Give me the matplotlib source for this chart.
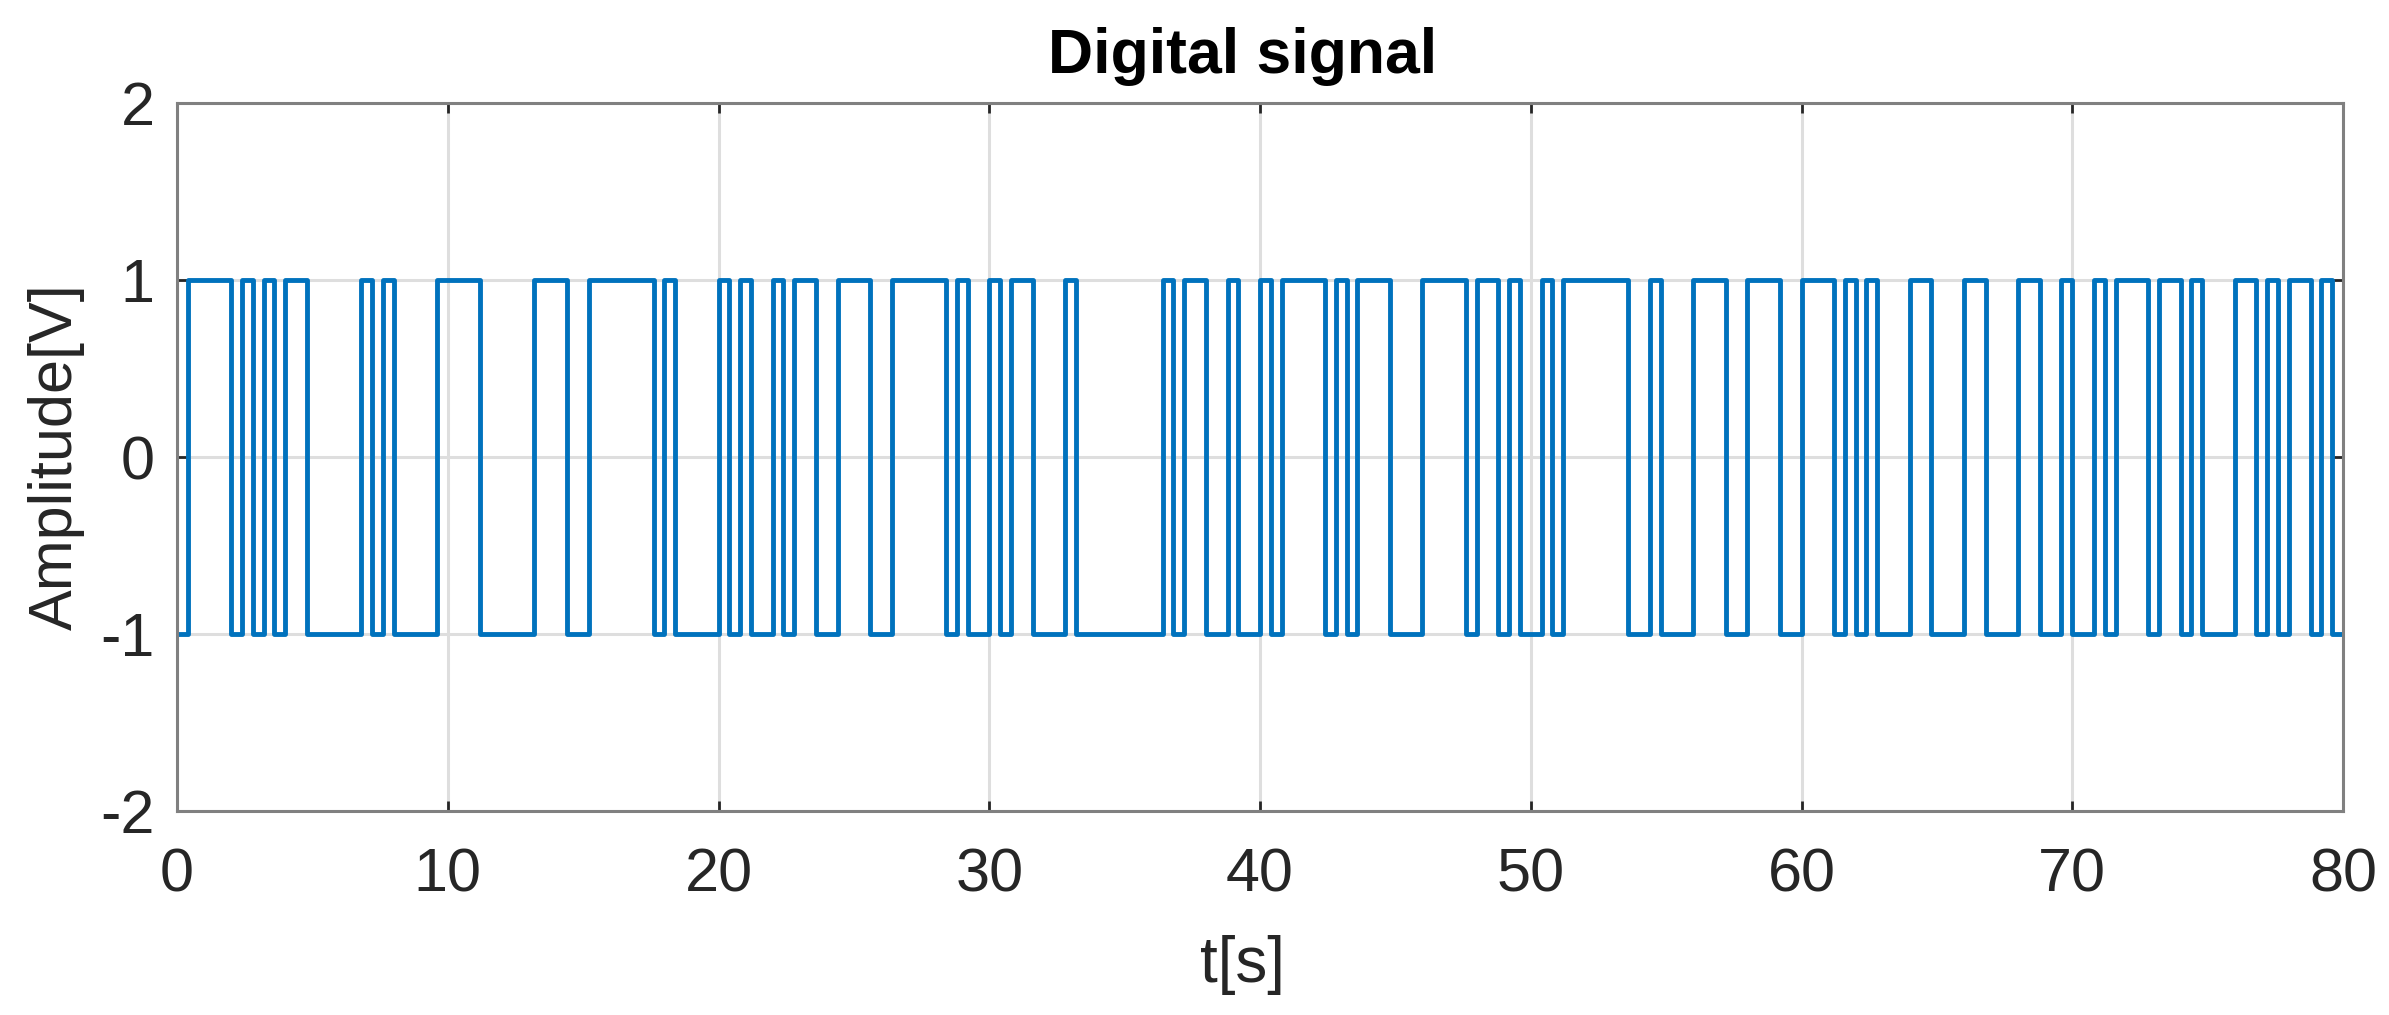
import numpy as np
import matplotlib.pyplot as plt
from matplotlib import font_manager

# Digital signal, 200 bits of 0.4 s each (1 -> +1 V, 0 -> -1 V)

bit_period = 0.4
bit_rows = [
    "0111101010", "1100000101", "0000111100", "0001110011", "1111010000",
    "1010010110", "0111001111", "1010010110", "0010000000", "0101100100",
    "1011110101", "1100011110", "1101001011", "1111001000", "1110011100",
    "1110101000", "1100011000", "1100100101", "1101101000", "1101011010",
]
x_ticks = [0, 10, 20, 30, 40, 50, 60, 70, 80]
y_ticks = [-2, -1, 0, 1, 2]

bits = np.array([int(c) for c in "".join(bit_rows)])
levels = 2 * bits - 1
t = np.arange(len(levels) + 1) * bit_period
y = np.append(levels, levels[-1])

installed = {f.name for f in font_manager.fontManager.ttflist}
narrow = "Liberation Sans Narrow" if "Liberation Sans Narrow" in installed else "Liberation Sans"

plt.rcParams['font.family'] = [narrow, 'DejaVu Sans']
plt.rcParams['axes.unicode_minus'] = False

W, H = 2389, 1015
fig = plt.figure(figsize=(W / 100, H / 100), dpi=100)
ax = fig.add_axes([177 / W, 1 - 811 / H, (2343 - 177) / W, (811 - 103) / H])

ax.step(t, y, where='post', color='#0072BD', linewidth=3.5)

ax.set_xlim(0, 80)
ax.set_ylim(-2, 2)
ax.set_xticks(x_ticks)
ax.set_yticks(y_ticks)
ax.grid(True, color='#dedede', linewidth=2.2)
ax.set_axisbelow(True)

for s in ax.spines.values():
    s.set_color('#808080')
    s.set_linewidth(2.2)

ax.tick_params(axis='both', direction='in', length=7, width=2, color='#262626',
               top=True, right=True, labelsize=44, labelcolor='#262626')
ax.tick_params(axis='x', pad=26)
ax.tick_params(axis='y', pad=16)

ax.set_title("Digital signal", fontsize=45, fontweight='bold',
             family=['Liberation Sans', 'DejaVu Sans'], pad=21.6, x=0.492)
ax.set_xlabel("t[s]", fontsize=46, color='#262626')
ax.set_ylabel("Amplitude[V]", fontsize=44, color='#262626')
ax.xaxis.set_label_coords(0.492, -0.175)
ax.yaxis.set_label_coords(-0.0425, 0.5)

fig.savefig("out.png", dpi=100, facecolor='white')
